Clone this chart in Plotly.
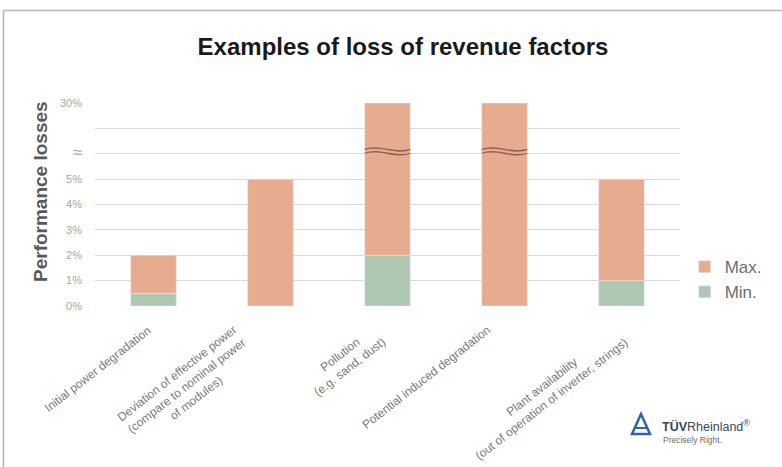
import plotly.graph_objects as go

# Loss-of-revenue factors with their minimum and maximum performance losses (in %)
categories = [
    "Initial power degradation",
    "Deviation of effective power<br>(compare to nominal power<br>of modules)",
    "Pollution<br>(e.g. sand, dust)",
    "Potential induced degradation",
    "Plant availability<br>(out of operation of inverter, strings)",
]
min_loss = [0.5, 0, 2, 0, 1]
max_loss = [2, 5, 30, 30, 5]

# Broken y axis: 0-5 % on a linear scale, then a compressed band up to 30 %
tick_vals = [0, 1, 2, 3, 4, 5, 6, 7, 8]
tick_text = ["0%", "1%", "2%", "3%", "4%", "5%",
             "<span style='font-size:17px'>≈</span>", "", "30%"]

W, H = 782, 467
L, R, T, B = 95, 102, 103, 161


def axis_pos(v):
    return v if v <= 5 else 5 + 3 * (v - 5) / 25


def px(x, y):
    # pixel position on the page -> paper coordinates
    return (x - L) / (W - L - R), (H - B - y) / (H - T - B)


xs = list(range(len(categories)))
min_pos = [axis_pos(v) for v in min_loss]
max_pos = [axis_pos(v) for v in max_loss]

ORANGE = "#E7AC90"
GREEN = "#AFC7B1"
FONT = "Liberation Sans, Arial"

fig = go.Figure()
fig.add_trace(go.Bar(
    x=xs, y=min_pos, name="Min.", marker_color=GREEN, width=0.39,
    customdata=min_loss, hovertemplate="%{customdata}%<extra>Min.</extra>",
))
fig.add_trace(go.Bar(
    x=xs, y=[mx - mn for mx, mn in zip(max_pos, min_pos)], base=min_pos,
    name="Max.", marker_color=ORANGE, width=0.39,
    customdata=max_loss, hovertemplate="%{customdata}%<extra>Max.</extra>",
))

shapes = []
# wavy break marks on the bars that run through the axis break
for i, v in enumerate(max_loss):
    if v > 5:
        x0, x1 = i - 0.195, i + 0.195
        w = x1 - x0
        for yc in (6.17, 6.02):
            shapes.append(dict(
                type="path", xref="x", yref="y",
                path=(f"M{x0},{yc} C{x0 + w / 3},{yc + 0.22} "
                      f"{x0 + 2 * w / 3},{yc - 0.22} {x1},{yc}"),
                line=dict(color="#8E6152", width=1.3),
            ))

# outer frame lines
fx0, fy0 = px(3.5, 10.5)
fx1, fy1 = px(782, 467)
shapes.append(dict(type="line", xref="paper", yref="paper",
                   x0=fx0, y0=fy0, x1=fx1, y1=fy0,
                   line=dict(color="#B5B5B5", width=1.5)))
shapes.append(dict(type="line", xref="paper", yref="paper",
                   x0=fx0, y0=fy0, x1=fx0, y1=fy1,
                   line=dict(color="#B5B5B5", width=1.5)))

# TÜV Rheinland logo triangle
a = px(641, 414)
b = px(632, 434)
c = px(650, 434)
shapes.append(dict(type="path", xref="paper", yref="paper",
                   path=f"M{a[0]},{a[1]} L{b[0]},{b[1]} L{c[0]},{c[1]} Z",
                   line=dict(color="#2E64A8", width=2.5)))
d = px(636, 428)
e = px(647, 428)
shapes.append(dict(type="line", xref="paper", yref="paper",
                   x0=d[0], y0=d[1], x1=e[0], y1=e[1],
                   line=dict(color="#2E64A8", width=2)))

annotations = []
# rotated category labels under the axis, nudged sideways to sit by their bars
label_shift = [3, -9, 4, -8, 12]
label_top = px(0, 320)[1]
for i, name in enumerate(categories):
    annotations.append(dict(
        x=i, y=label_top, xref="x", yref="paper", text=name,
        showarrow=False, textangle=-38, xanchor="right", yanchor="top",
        xshift=label_shift[i],
        align="center", font=dict(family=FONT, size=12, color="#7A7A7A"),
    ))

# y axis title
yt = px(40, 192)
annotations.append(dict(
    x=yt[0], y=yt[1], xref="paper", yref="paper", text="<b>Performance losses</b>",
    showarrow=False, textangle=-90, xanchor="center", yanchor="middle",
    font=dict(family=FONT, size=19, color="#595959"),
))

# logo text
lt = px(660, 426)
annotations.append(dict(
    x=lt[0], y=lt[1], xref="paper", yref="paper",
    text="<b>TÜV</b>Rheinland<sup>®</sup>",
    showarrow=False, xanchor="left", yanchor="middle",
    font=dict(family=FONT, size=12.5, color="#3A4660"),
))
ls = px(661, 440)
annotations.append(dict(
    x=ls[0], y=ls[1], xref="paper", yref="paper", text="Precisely Right.",
    showarrow=False, xanchor="left", yanchor="middle",
    font=dict(family=FONT, size=8.5, color="#6B6B6B"),
))

fig.update_layout(
    width=W, height=H,
    margin=dict(l=L, r=R, t=T, b=B, pad=0),
    paper_bgcolor="white", plot_bgcolor="white",
    barmode="overlay",
    title=dict(
        text="<b>Examples of loss of revenue factors</b>",
        x=403 / W, xref="container", xanchor="center",
        y=1 - 47 / H, yref="container", yanchor="middle",
        font=dict(family=FONT, size=24, color="#1A1A1A"),
    ),
    xaxis=dict(
        range=[-0.5, len(categories) - 0.5], showticklabels=False,
        showgrid=False, zeroline=False, showline=False, fixedrange=True,
    ),
    yaxis=dict(
        range=[0, 8], tickvals=tick_vals, ticktext=tick_text,
        showgrid=True, gridcolor="#D9D9D9", gridwidth=1,
        zeroline=False, showline=False, ticks="",
        ticklabelstandoff=12,
        tickfont=dict(family=FONT, size=11, color="#A6A6A6"),
    ),
    legend=dict(
        x=1.008, y=0.28, xanchor="left", yanchor="top", traceorder="reversed",
        font=dict(family=FONT, size=17, color="#6E6E6E"),
        bgcolor="rgba(0,0,0,0)", itemwidth=30,
    ),
    shapes=shapes,
    annotations=annotations,
    showlegend=True,
)

fig.write_html("out.html")
